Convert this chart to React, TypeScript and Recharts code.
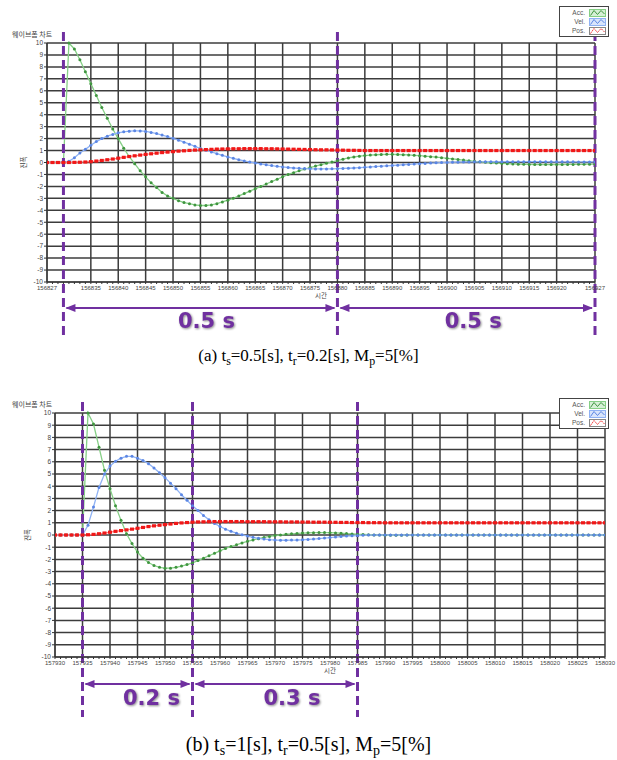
import React from 'react';
import {
  ComposedChart,
  Line,
  XAxis,
  YAxis,
  CartesianGrid,
  ReferenceLine,
  ReferenceArea,
  Legend,
} from 'recharts';

const PURPLE = '#7030A0';

const Y_TICKS = [-10, -9, -8, -7, -6, -5, -4, -3, -2, -1, 0, 1, 2, 3, 4, 5, 6, 7, 8, 9, 10];

// ---------- Panel (a) ----------
const A_X_START = 156827;
const A_X_END = 156927;
const A_X_LABELS = [
  156827, 156835, 156840, 156845, 156850, 156855, 156860, 156865, 156870, 156875,
  156880, 156885, 156890, 156895, 156900, 156905, 156910, 156915, 156920, 156927,
];
const A_ACC = [
  0, 0, 0, 0, 10, 9.5, 8.6, 7.6, 6.6, 5.6,
  4.6, 3.7, 2.8, 2.0, 1.2, 0.5, -0.1, -0.7, -1.2, -1.7,
  -2.1, -2.5, -2.8, -3.0, -3.2, -3.35, -3.45, -3.55, -3.6, -3.6,
  -3.55, -3.45, -3.3, -3.15, -3.0, -2.8, -2.6, -2.4, -2.2, -2.0,
  -1.8, -1.6, -1.4, -1.2, -1.0, -0.85, -0.7, -0.55, -0.42, -0.3,
  -0.18, -0.07, 0.04, 0.15, 0.28, 0.38, 0.46, 0.53, 0.58, 0.62,
  0.65, 0.67, 0.68, 0.68, 0.67, 0.65, 0.63, 0.6, 0.57, 0.53,
  0.49, 0.45, 0.4, 0.35, 0.3, 0.25, 0.2, 0.15, 0.1, 0.06,
  0.02, -0.02, -0.05, -0.08, -0.1, -0.12, -0.14, -0.15, -0.16, -0.17,
  -0.17, -0.17, -0.17, -0.17, -0.17, -0.16, -0.16, -0.15, -0.15, -0.14,
  -0.14,
];
const A_VEL = [
  0, 0, 0, 0, 0.1, 0.4, 0.8, 1.1, 1.45, 1.75,
  2.0, 2.2, 2.35, 2.48, 2.57, 2.62, 2.65, 2.64, 2.6, 2.52,
  2.42, 2.3, 2.17, 2.02, 1.87, 1.7, 1.53, 1.35, 1.17, 1.03,
  0.88, 0.74, 0.6, 0.47, 0.35, 0.23, 0.13, 0.04, -0.04, -0.12,
  -0.19, -0.26, -0.32, -0.37, -0.42, -0.46, -0.49, -0.51, -0.53, -0.54,
  -0.54, -0.54, -0.53, -0.52, -0.5, -0.48, -0.46, -0.43, -0.4, -0.37,
  -0.34, -0.31, -0.28, -0.25, -0.22, -0.19, -0.16, -0.13, -0.1, -0.08,
  -0.05, -0.03, -0.01, 0.01, 0.02, 0.03, 0.04, 0.05, 0.06, 0.06,
  0.07, 0.07, 0.07, 0.07, 0.07, 0.07, 0.07, 0.07, 0.07, 0.07,
  0.07, 0.07, 0.06, 0.06, 0.06, 0.06, 0.06, 0.05, 0.05, 0.05,
  0.05,
];
const A_POS = [
  0, 0, 0, 0, 0, 0.01, 0.02, 0.04, 0.07, 0.12,
  0.17, 0.23, 0.29, 0.36, 0.43, 0.5, 0.56, 0.62, 0.68, 0.73,
  0.78, 0.83, 0.87, 0.91, 0.95, 0.98, 1.01, 1.04, 1.06, 1.08,
  1.1, 1.12, 1.13, 1.14, 1.15, 1.15, 1.16, 1.16, 1.16, 1.16,
  1.15, 1.15, 1.14, 1.13, 1.12, 1.11, 1.1, 1.09, 1.08, 1.07,
  1.06, 1.06, 1.05, 1.04, 1.03, 1.02, 1.02, 1.01, 1.0, 1.0,
  1.0, 1.0, 1.0, 1.0, 1.0, 1.0, 1.0, 1.0, 1.0, 1.0,
  1.0, 1.0, 1.0, 1.0, 1.0, 1.0, 1.0, 1.0, 1.0, 1.0,
  1.0, 1.0, 1.0, 1.0, 1.0, 1.0, 1.0, 1.0, 1.0, 1.0,
  1.0, 1.0, 1.0, 1.0, 1.0, 1.0, 1.0, 1.0, 1.0, 1.0,
  1.0,
];
const A_MARKERS = [156830, 156880, 156927];
const A_SPANS = [
  { from: 156830, to: 156880, label: '0.5 s' },
  { from: 156880, to: 156927, label: '0.5 s' },
];

// ---------- Panel (b) ----------
const B_X_START = 157930;
const B_X_END = 158030;
const B_X_LABELS = [
  157930, 157935, 157940, 157945, 157950, 157955, 157960, 157965, 157970, 157975,
  157980, 157985, 157990, 157995, 158000, 158005, 158010, 158015, 158020, 158025,
  158030,
];
const B_ACC = [
  0, 0, 0, 0, 0, 0, 10, 9.1, 7.2, 5.3,
  3.8, 2.4, 1.2, 0.1, -0.7, -1.4, -1.9, -2.25, -2.5, -2.65,
  -2.72, -2.72, -2.65, -2.55, -2.42, -2.28, -2.1, -1.9, -1.7, -1.5,
  -1.3, -1.1, -0.95, -0.8, -0.65, -0.52, -0.4, -0.3, -0.2, -0.12,
  -0.05, 0.01, 0.06, 0.1, 0.13, 0.16, 0.18, 0.19, 0.2, 0.2,
  0.19, 0.17, 0.15, 0.12, 0.09, 0.06, 0.04, 0.02, 0.0, -0.01,
  -0.02, -0.02, -0.02, -0.02, -0.01, -0.01, -0.01, 0, 0, 0,
  0, 0, 0, 0, 0, 0, 0, 0, 0, 0,
  0, 0, 0, 0, 0, 0, 0, 0, 0, 0,
  0, 0, 0, 0, 0, 0, 0, 0, 0, 0,
  0,
];
const B_VEL = [
  0, 0, 0, 0, 0, 0, 0.8, 2.3, 3.9, 5.0,
  5.65, 6.05, 6.3, 6.45, 6.45, 6.3, 6.1, 5.85, 5.5, 5.1,
  4.7, 4.25, 3.8, 3.3, 2.85, 2.4, 2.0, 1.6, 1.25, 0.95,
  0.7, 0.48, 0.3, 0.15, 0.02, -0.09, -0.19, -0.27, -0.33, -0.38,
  -0.41, -0.43, -0.43, -0.42, -0.41, -0.39, -0.36, -0.33, -0.29, -0.25,
  -0.21, -0.17, -0.13, -0.09, -0.06, -0.04, -0.02, -0.01, 0, 0,
  0, 0, 0, 0, 0, 0, 0, 0, 0, 0,
  0, 0, 0, 0, 0, 0, 0, 0, 0, 0,
  0, 0, 0, 0, 0, 0, 0, 0, 0, 0,
  0, 0, 0, 0, 0, 0, 0, 0, 0, 0,
  0,
];
const B_POS = [
  0, 0, 0, 0, 0, 0, 0.02, 0.05, 0.1, 0.16,
  0.23, 0.3, 0.36, 0.42, 0.48, 0.55, 0.62, 0.69, 0.75, 0.8,
  0.85, 0.9, 0.95, 0.99, 1.02, 1.05, 1.07, 1.08, 1.09, 1.1,
  1.1, 1.1, 1.1, 1.1, 1.1, 1.09, 1.09, 1.09, 1.09, 1.08,
  1.08, 1.08, 1.07, 1.07, 1.07, 1.06, 1.06, 1.05, 1.05, 1.05,
  1.04, 1.04, 1.03, 1.03, 1.02, 1.02, 1.02, 1.01, 1.01, 1.01,
  1.0, 1.0, 1.0, 1.0, 1.0, 1.0, 1.0, 1.0, 1.0, 1.0,
  1.0, 1.0, 1.0, 1.0, 1.0, 1.0, 1.0, 1.0, 1.0, 1.0,
  1.0, 1.0, 1.0, 1.0, 1.0, 1.0, 1.0, 1.0, 1.0, 1.0,
  1.0, 1.0, 1.0, 1.0, 1.0, 1.0, 1.0, 1.0, 1.0, 1.0,
  1.0,
];
const B_MARKERS = [157935, 157955, 157985];
const B_SPANS = [
  { from: 157935, to: 157955, label: '0.2 s' },
  { from: 157955, to: 157985, label: '0.3 s' },
];

// ---------- styles ----------
const SERIES = [
  { key: 'acc', name: 'Acc.', line: '#86cf86', dot: '#3f953f', bg: '#d6f0d6', kind: 'circle' },
  { key: 'vel', name: 'Vel.', line: '#8fb2f4', dot: '#5b86e4', bg: '#d8e4fb', kind: 'circle' },
  { key: 'pos', name: 'Pos.', line: '#ff8080', dot: '#f01818', bg: '#ffffff', kind: 'square' },
];

const GRID_COLOR = '#3c3c3c';

const LAYOUT_A = {
  top: 0, height: 345, mTop: 43, mBottom: 45, mRight: 22, yWidth: 47,
  dashAbove: 11, dashBelow: 58, arrowY: 308, textY: 328, textShift: [6, 7], legendTop: 6,
};
const LAYOUT_B = {
  top: 370, height: 350, mTop: 43, mBottom: 45, mRight: 12, yWidth: 55,
  dashAbove: 11, dashBelow: 60, arrowY: 314, textY: 335, textShift: [14, 17], legendTop: 28,
};

function buildRows(start: number, acc: number[], vel: number[], pos: number[]) {
  return acc.map((a, i) => ({ x: start + i, acc: a, vel: vel[i], pos: pos[i] }));
}

const renderLegend = (props: any) => {
  const payload: any[] = props.payload || [];
  const ordered = SERIES.map((s) => ({ s, e: payload.find((p) => p.dataKey === s.key) })).filter(
    (o) => o.e,
  );
  return (
    <div
      style={{
        border: '1.5px solid #444',
        background: '#fff',
        width: 50,
        padding: '1px 2px 1px 0',
        boxSizing: 'border-box',
        fontFamily: 'Liberation Sans, Arial, sans-serif',
        fontSize: 6.5,
        color: '#555',
      }}
    >
      {ordered.map(({ s, e }) => (
        <div
          key={s.key}
          style={{ display: 'flex', justifyContent: 'flex-end', alignItems: 'center', height: 9 }}
        >
          <span style={{ marginRight: 4 }}>{e.value}</span>
          <svg width={17} height={8}>
            <rect
              x={0.5}
              y={0.5}
              width={16}
              height={7}
              fill={s.bg}
              stroke={s.kind === 'square' ? '#888' : s.line}
            />
            <polyline
              points="1.5,6.5 5,1.5 8.5,5.5 12,1.5 15.5,5"
              fill="none"
              stroke={s.dot}
              strokeWidth={1}
              strokeDasharray={s.kind === 'square' ? '1.5 1' : undefined}
            />
          </svg>
        </div>
      ))}
    </div>
  );
};

function Panel(props: {
  rows: any[];
  xStart: number;
  xEnd: number;
  xLabels: number[];
  markers: number[];
  spans: { from: number; to: number; label: string }[];
  L: any;
}) {
  const { rows, xStart, xEnd, xLabels, markers, spans, L } = props;
  const allTicks = rows.map((r) => r.x);
  const labelSet = new Set(xLabels);

  const dashShape = (p: any) => {
    const top = Math.min(p.y1, p.y2);
    const bot = Math.max(p.y1, p.y2);
    return (
      <line
        x1={p.x1}
        x2={p.x2}
        y1={top - L.dashAbove}
        y2={bot + L.dashBelow}
        stroke={PURPLE}
        strokeWidth={3}
        strokeDasharray="9 5"
      />
    );
  };

  const spanShape = (label: string, shift: number) => (p: any) => {
    const xl = p.x;
    const xr = p.x + p.width;
    const y = L.arrowY;
    return (
      <g>
        <line x1={xl + 3} x2={xr - 3} y1={y} y2={y} stroke={PURPLE} strokeWidth={2} />
        <polygon points={`${xl + 2},${y} ${xl + 12},${y - 4} ${xl + 12},${y + 4}`} fill={PURPLE} />
        <polygon points={`${xr - 2},${y} ${xr - 12},${y - 4} ${xr - 12},${y + 4}`} fill={PURPLE} />
        <text
          x={(xl + xr) / 2 + shift}
          y={L.textY}
          textAnchor="middle"
          fontFamily="DejaVu Sans, Verdana, sans-serif"
          fontWeight="bold"
          fontSize={21}
          fill={PURPLE}
          style={{ filter: 'drop-shadow(1.5px 1.5px 1px rgba(0,0,0,0.45))' }}
        >
          {label}
        </text>
      </g>
    );
  };

  return (
    <ComposedChart
      width={617}
      height={L.height}
      data={rows}
      margin={{ top: L.mTop, right: L.mRight, bottom: L.mBottom, left: 0 }}
    >
      <CartesianGrid
        stroke={GRID_COLOR}
        strokeWidth={1.5}
        verticalValues={xLabels}
        horizontalValues={Y_TICKS}
        horizontal={{ stroke: GRID_COLOR, strokeWidth: 1.5 }}
        vertical={{ stroke: GRID_COLOR, strokeWidth: 1.5 }}
      />
      <XAxis
        dataKey="x"
        type="number"
        domain={[xStart, xEnd]}
        ticks={allTicks}
        interval={0}
        allowDataOverflow
        height={18}
        tickSize={2}
        tickMargin={2}
        stroke="#333"
        tickFormatter={(v: number) => (labelSet.has(v) ? String(v) : '')}
        tick={{ fontSize: 6, fill: '#444', fontFamily: 'Liberation Sans, Arial, sans-serif' }}
        label={{
          value: '시간',
          position: 'insideBottom',
          offset: 2,
          fontSize: 6.5,
          fill: '#444',
          fontFamily: 'Noto Sans CJK KR, sans-serif',
        }}
      />
      <YAxis
        type="number"
        domain={[-10, 10]}
        ticks={Y_TICKS}
        interval={0}
        width={L.yWidth}
        tickSize={3}
        tickMargin={1}
        stroke="#333"
        tick={{ fontSize: 6.5, fill: '#444', fontFamily: 'Liberation Sans, Arial, sans-serif' }}
        label={{
          value: '진폭',
          angle: -90,
          position: 'center',
          fontSize: 6.5,
          fill: '#444',
          fontFamily: 'Noto Sans CJK KR, sans-serif',
        }}
      />
      <Legend
        layout="vertical"
        align="center"
        verticalAlign="middle"
        wrapperStyle={{ top: L.legendTop, right: 8, left: 'auto', width: 50 }}
        content={renderLegend}
      />
      {SERIES.map((s) => (
        <Line
          key={s.key}
          dataKey={s.key}
          name={s.name}
          type="linear"
          stroke={s.line}
          strokeWidth={s.kind === 'square' ? 1.2 : 1.3}
          isAnimationActive={false}
          activeDot={false}
          dot={
            s.kind === 'square'
              ? (p: any) => (
                  <rect
                    key={`d-${s.key}-${p.index}`}
                    x={p.cx - 2}
                    y={p.cy - 1.6}
                    width={4}
                    height={3.2}
                    fill={s.dot}
                  />
                )
              : { r: 1.5, fill: s.dot, stroke: 'none' }
          }
        />
      ))}
      {markers.map((m) => (
        <ReferenceLine key={`m-${m}`} x={m} ifOverflow="visible" shape={dashShape} />
      ))}
      {spans.map((sp, i) => (
        <ReferenceArea
          key={`s-${i}`}
          x1={sp.from}
          x2={sp.to}
          ifOverflow="visible"
          shape={spanShape(sp.label, L.textShift[i])}
        />
      ))}
    </ComposedChart>
  );
}

const titleStyle: React.CSSProperties = {
  position: 'absolute',
  left: 12,
  fontFamily: 'Noto Sans CJK KR, sans-serif',
  fontSize: 7,
  color: '#444',
  lineHeight: '8px',
  whiteSpace: 'nowrap',
};

const captionStyle: React.CSSProperties = {
  position: 'absolute',
  left: 0,
  width: 617,
  textAlign: 'center',
  fontFamily: 'Liberation Serif, Times New Roman, serif',
  color: '#000',
  whiteSpace: 'nowrap',
};

const subStyle: React.CSSProperties = { fontSize: '70%', verticalAlign: '-0.3em', lineHeight: 0 };

export default function App() {
  const rowsA = buildRows(A_X_START, A_ACC, A_VEL, A_POS);
  const rowsB = buildRows(B_X_START, B_ACC, B_VEL, B_POS);
  return (
    <div style={{ position: 'absolute', left: 0, top: 0, width: 617, height: 760, background: '#fff' }}>
      <div style={{ position: 'absolute', left: 0, top: LAYOUT_A.top }}>
        <Panel
          rows={rowsA}
          xStart={A_X_START}
          xEnd={A_X_END}
          xLabels={A_X_LABELS}
          markers={A_MARKERS}
          spans={A_SPANS}
          L={LAYOUT_A}
        />
      </div>
      <div style={{ ...titleStyle, top: 30 }}>웨이브폼 차트</div>
      <div style={{ ...captionStyle, top: 344, fontSize: 17, lineHeight: '24px' }}>
        (a) t<sub style={subStyle}>s</sub>=0.5[s], t<sub style={subStyle}>r</sub>=0.2[s], M
        <sub style={subStyle}>p</sub>=5[%]
      </div>

      <div style={{ position: 'absolute', left: 0, top: LAYOUT_B.top }}>
        <Panel
          rows={rowsB}
          xStart={B_X_START}
          xEnd={B_X_END}
          xLabels={B_X_LABELS}
          markers={B_MARKERS}
          spans={B_SPANS}
          L={LAYOUT_B}
        />
      </div>
      <div style={{ ...titleStyle, top: 400 }}>웨이브폼 차트</div>
      <div style={{ ...captionStyle, top: 731, fontSize: 20, lineHeight: '26px' }}>
        (b) t<sub style={subStyle}>s</sub>=1[s], t<sub style={subStyle}>r</sub>=0.5[s], M
        <sub style={subStyle}>p</sub>=5[%]
      </div>
    </div>
  );
}
